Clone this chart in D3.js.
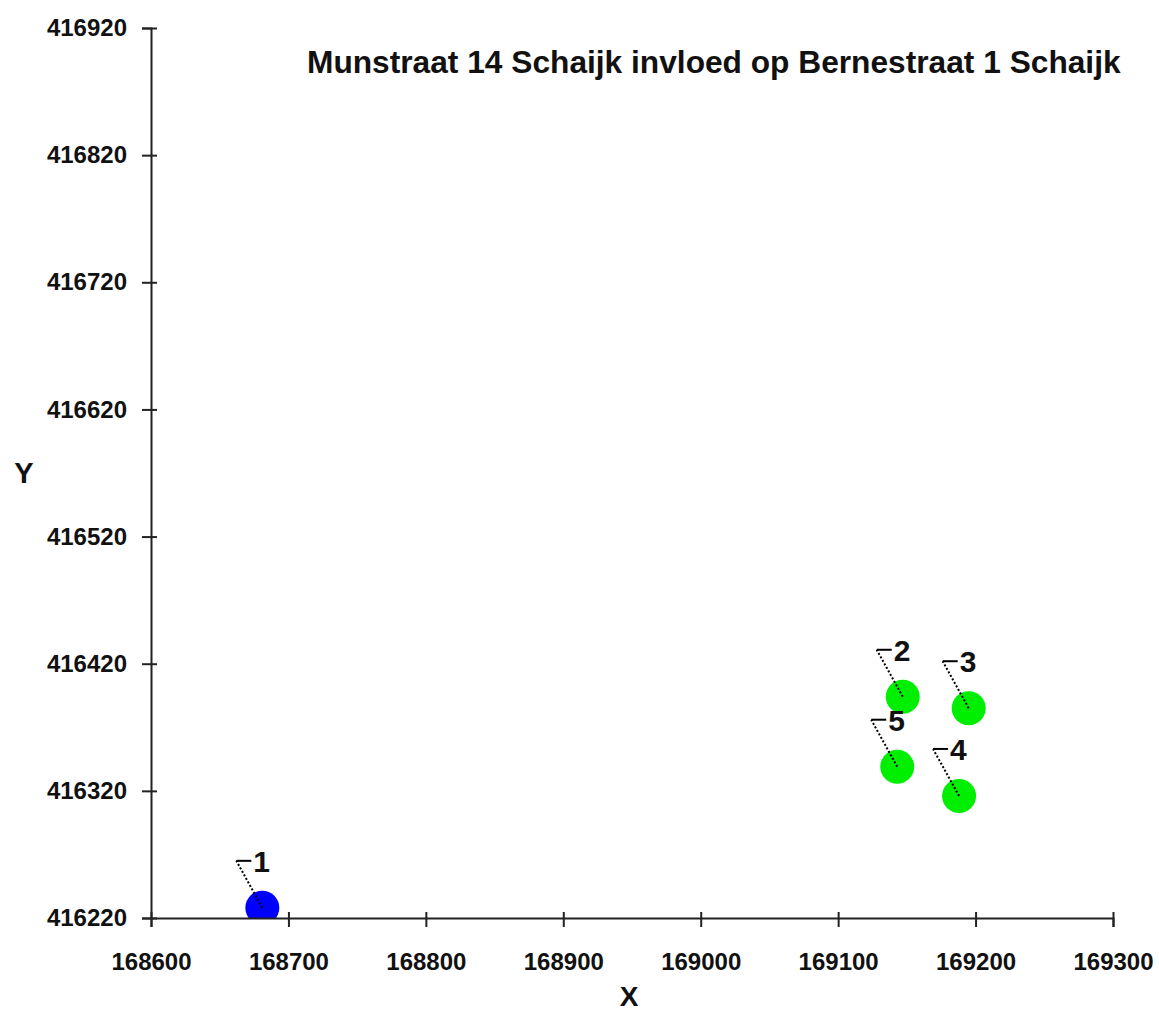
<!DOCTYPE html>
<html>
<head>
<meta charset="utf-8">
<script src="https://cdn.jsdelivr.net/npm/d3@7"></script>
<style>
  body { margin: 0; background: #fff; }
  text { font-family: "Liberation Sans", Arial, sans-serif; font-weight: bold; fill: #111; }
</style>
</head>
<body>
<div id="chart"></div>
<script>
const width = 1159;
const height = 1012;

const title = "Munstraat 14 Schaijk invloed op Bernestraat 1 Schaijk";
const pointIds = ["1", "2", "3", "4", "5"];
const pointX = [168681, 169147, 169195, 169188, 169143];
const pointY = [416228, 416394, 416385, 416316, 416339];
const pointType = ["bron", "ontvanger", "ontvanger", "ontvanger", "ontvanger"];
const xTicks = [168600, 168700, 168800, 168900, 169000, 169100, 169200, 169300];
const yTicks = [416220, 416320, 416420, 416520, 416620, 416720, 416820, 416920];

const points = pointIds.map((id, i) => ({
  id: id, x: pointX[i], y: pointY[i], type: pointType[i]
}));

const x = d3.scaleLinear().domain([168600, 169300]).range([151, 1113]);
const y = d3.scaleLinear().domain([416220, 416920]).range([918, 28]);
const color = d3.scaleOrdinal().domain(["bron", "ontvanger"]).range(["#0000ff", "#00ee00"]);

const svg = d3
  .select("#chart")
  .append("svg")
  .attr("width", width)
  .attr("height", height);

svg.append("clipPath")
  .attr("id", "plot")
  .append("rect")
  .attr("x", x.range()[0])
  .attr("y", y.range()[1])
  .attr("width", x.range()[1] - x.range()[0])
  .attr("height", y.range()[0] - y.range()[1]);

// points
svg.append("g")
  .attr("clip-path", "url(#plot)")
  .selectAll("circle")
  .data(points)
  .join("circle")
  .attr("cx", (d) => x(d.x))
  .attr("cy", (d) => y(d.y))
  .attr("r", 17)
  .attr("fill", (d) => color(d.type));

// axes
const xAxis = svg.append("g")
  .attr("transform", `translate(0,${y.range()[0]})`)
  .call(d3.axisBottom(x).tickValues(xTicks).tickFormat(d3.format("d")).tickSizeOuter(0).tickSize(9).tickPadding(26));

const yAxis = svg.append("g")
  .attr("transform", `translate(${x.range()[0]},0)`)
  .call(d3.axisLeft(y).tickValues(yTicks).tickFormat(d3.format("d")).tickSizeOuter(0).tickSize(9).tickPadding(15));

[xAxis, yAxis].forEach((g) => {
  g.select(".domain").attr("stroke", "#222").attr("stroke-width", 2);
  g.selectAll(".tick line").attr("stroke", "#222").attr("stroke-width", 2);
  g.selectAll(".tick text")
    .style("font-size", "24px")
    .style("font-family", "'Liberation Sans', Arial, sans-serif")
    .style("font-weight", "bold")
    .attr("fill", "#111");
});
xAxis.selectAll(".tick line").attr("y1", -6);
yAxis.selectAll(".tick line").attr("x1", 6);

// leaders and labels
const lab = svg.append("g").selectAll("g").data(points).join("g")
  .attr("transform", (d) => `translate(${x(d.x)},${y(d.y)})`);

lab.append("line")
  .attr("x1", 0).attr("y1", 0)
  .attr("x2", -26).attr("y2", -47)
  .attr("stroke", "#000")
  .attr("stroke-width", 2)
  .attr("stroke-dasharray", "2,2");

lab.append("line")
  .attr("x1", -26).attr("y1", -47)
  .attr("x2", -11).attr("y2", -47)
  .attr("stroke", "#000")
  .attr("stroke-width", 2);

lab.append("text")
  .attr("x", -9)
  .attr("y", -47)
  .attr("dy", "0.36em")
  .style("font-size", "30px")
  .text((d) => d.id);

svg.append("text")
  .attr("x", 307)
  .attr("y", 73)
  .style("font-size", "31.7px")
  .text(title);

svg.append("text")
  .attr("x", 24)
  .attr("y", 483)
  .attr("text-anchor", "middle")
  .style("font-size", "29px")
  .text("Y");

svg.append("text")
  .attr("x", 629)
  .attr("y", 1006)
  .attr("text-anchor", "middle")
  .style("font-size", "28px")
  .text("X");
</script>
</body>
</html>
